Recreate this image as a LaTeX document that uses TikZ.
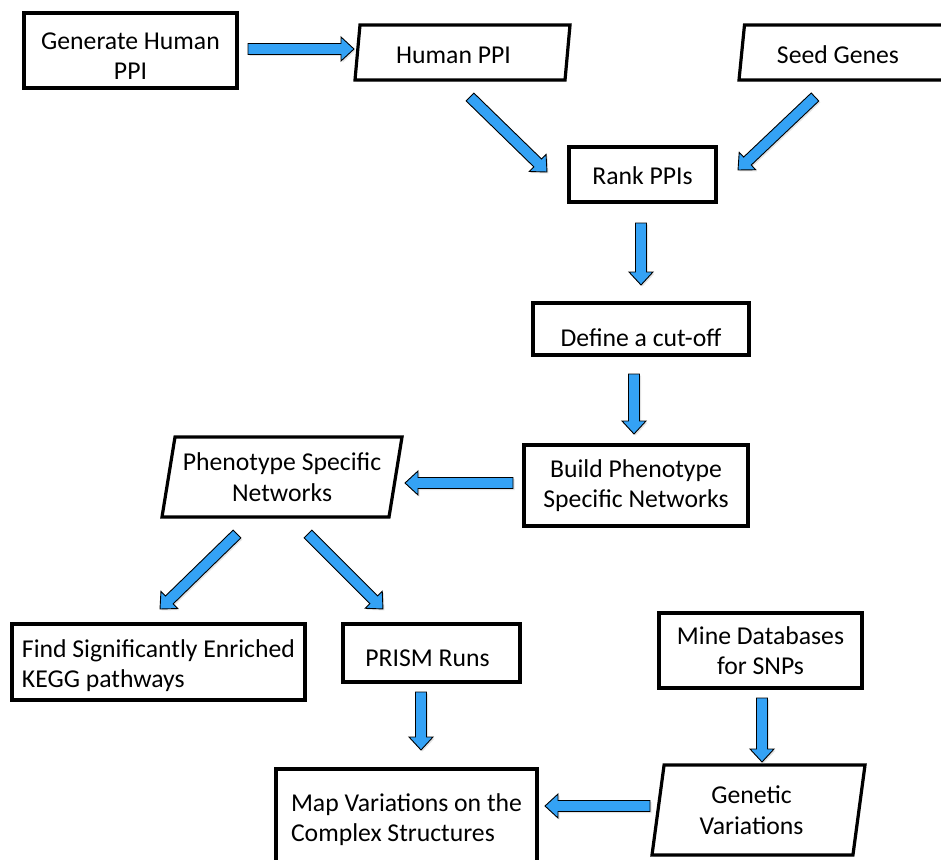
\documentclass[tikz,border=0pt]{standalone}
\usepackage{fontspec}
\setmainfont{Carlito}
\usetikzlibrary{shapes.geometric,shadows}

\definecolor{arrowblue}{RGB}{52,162,245}
\newcommand{\flowfont}{\fontsize{25.7}{30.5}\selectfont}
% pulls a centred line of text to the left by half of #1
\newcommand{\pullleft}[1]{\hspace*{-#1}}

% Block arrow from coordinate #1 to coordinate #2 (tip at #2)
\newcommand{\blockarrow}[2]{%
  \pgfpointdiff{\pgfpointanchor{#1}{center}}{\pgfpointanchor{#2}{center}}%
  \pgfgetlastxy{\baDx}{\baDy}%
  \pgfmathsetmacro{\baAng}{atan2(\baDy,\baDx)}%
  \pgfmathsetmacro{\baLen}{veclen(\baDx,\baDy)}%
  \pgfmathsetmacro{\baNeck}{\baLen-13}%
  \draw[barrowstyle, shift={(#1)}, rotate=\baAng]
    (0pt,-5.5pt) -- (\baNeck pt,-5.5pt) -- (\baNeck pt,-12pt) -- (\baLen pt,0pt)
    -- (\baNeck pt,12pt) -- (\baNeck pt,5.5pt) -- (0pt,5.5pt) -- cycle;%
}

\begin{document}
\begin{tikzpicture}[x=1pt,y=-1pt,
  softshadow/.style={drop shadow={opacity=0.22, shadow xshift=1.5pt, shadow yshift=-1.5pt}},
  box/.style={draw=black, line width=3.2pt, fill=white, softshadow,
    inner sep=0pt, align=center, font=\flowfont, text=black},
  para/.style={box, trapezium, trapezium stretches body=true},
  oneline/.style={text height=#1, text depth=0pt},
  barrowstyle/.style={fill=arrowblue, draw=black, line width=0.9pt,
    line join=miter, softshadow}]

\useasboundingbox (0,0) rectangle (941,859);
\fill[white] (0,0) rectangle (941,859);

% process steps and data
\node[box, minimum width=213, minimum height=75] (gen) at (130.5,50.5)
  {\rule{0pt}{28pt}Generate Human\\PPI};
\node[para, oneline=21.6pt, trapezium left angle=77, trapezium right angle=103,
      minimum width=215, minimum height=55] (hppi) at (462.5,52.5) {\pullleft{18pt}Human PPI};
\node[para, oneline=22pt, trapezium left angle=76, trapezium right angle=104,
      minimum width=214, minimum height=55] (seed) at (846,52.5) {\pullleft{16pt}Seed Genes};
\node[box, oneline=19.6pt, minimum width=147, minimum height=55] (rank) at (642.5,174.5) {Rank PPIs};
\node[box, oneline=34.6pt, minimum width=216, minimum height=52] (cut) at (641,329) {Define a cut-off};
\node[box, minimum width=224, minimum height=81] (build) at (636,485.5) {Build Phenotype\\Specific Networks};
\node[para, trapezium left angle=75, trapezium right angle=105,
      minimum width=240, minimum height=80] (pheno) at (282,477) {Phenotype Specific\\Networks};
\node[box, minimum width=293, minimum height=76, align=left] (kegg) at (158.5,662)
  {\rule{0pt}{25pt}Find Significantly Enriched\\KEGG pathways};
\node[box, oneline=26.6pt, minimum width=177, minimum height=58] (prism) at (431.5,653) {\pullleft{8pt}PRISM Runs};
\node[box, minimum width=203, minimum height=75] (mine) at (760.5,650.5) {Mine Databases\\for SNPs};
\node[box, minimum width=261, minimum height=101, align=left] (map) at (406.5,819.5) {Map Variations on the\\Complex Structures};
\node[para, trapezium left angle=76, trapezium right angle=104,
      minimum width=213, minimum height=90] (genvar) at (758.5,810)
  {\pullleft{14pt}Genetic\\\pullleft{14pt}Variations};

% arrow end points
\coordinate (a1s) at (248,49);   \coordinate (a1e) at (354,49);
\coordinate (a2s) at (470,97);   \coordinate (a2e) at (547,172);
\coordinate (a3s) at (815,97);   \coordinate (a3e) at (738,170);
\coordinate (a4s) at (641,223);  \coordinate (a4e) at (641,285);
\coordinate (a5s) at (634,374);  \coordinate (a5e) at (634,434);
\coordinate (a6s) at (513,483);  \coordinate (a6e) at (405,483);
\coordinate (a7s) at (237,534);  \coordinate (a7e) at (160,609);
\coordinate (a8s) at (308,534);  \coordinate (a8e) at (383,609);
\coordinate (a9s) at (421,692);  \coordinate (a9e) at (421,750);
\coordinate (a10s) at (762,698); \coordinate (a10e) at (762,762);
\coordinate (a11s) at (650,806); \coordinate (a11e) at (545,806);

\blockarrow{a1s}{a1e}
\blockarrow{a2s}{a2e}
\blockarrow{a3s}{a3e}
\blockarrow{a4s}{a4e}
\blockarrow{a5s}{a5e}
\blockarrow{a6s}{a6e}
\blockarrow{a7s}{a7e}
\blockarrow{a8s}{a8e}
\blockarrow{a9s}{a9e}
\blockarrow{a10s}{a10e}
\blockarrow{a11s}{a11e}

\end{tikzpicture}
\end{document}
